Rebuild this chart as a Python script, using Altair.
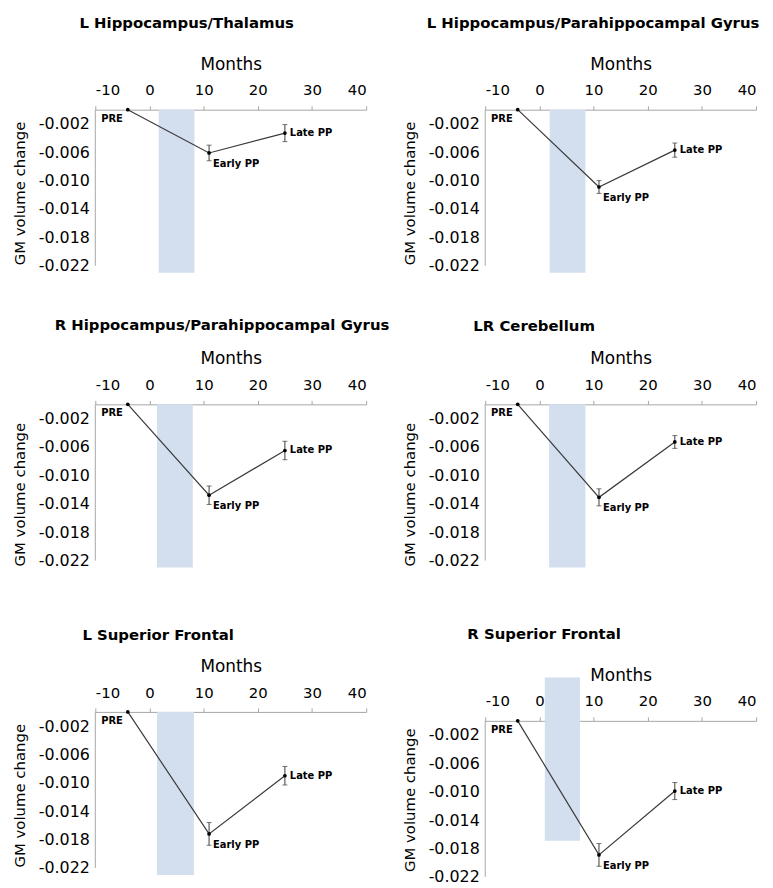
import altair as alt
import pandas as pd

regions = [
    "L Hippocampus/Thalamus",
    "L Hippocampus/Parahippocampal  Gyrus",
    "R Hippocampus/Parahippocampal  Gyrus",
    "LR Cerebellum",
    "L Superior  Frontal",
    "R Superior Frontal",
]
timepoints = ["PRE", "Early PP", "Late PP"]
months = [-4, 11, 25]
pre_values = [0.0, 0.0, 0.0, 0.0, 0.0, 0.0]
early_values = [-0.0061, -0.0109, -0.0128, -0.0131, -0.0172, -0.0189]
early_errors = [0.0011, 0.0009, 0.0013, 0.0012, 0.0016, 0.0016]
late_values = [-0.0033, -0.0057, -0.0065, -0.0053, -0.0090, -0.0099]
late_errors = [0.0012, 0.0010, 0.0013, 0.0009, 0.0013, 0.0012]
band_start = [1.7, 1.9, 1.4, 1.8, 1.4, 1.0]
band_end = [8.3, 8.5, 8.0, 8.5, 8.2, 7.5]
band_top = [0.0, 0.0, 0.0, 0.0, 0.0, 0.0061]
band_bottom = [-0.023, -0.023, -0.023, -0.023, -0.023, -0.0169]
x_ticks = [-10, 0, 10, 20, 30, 40]
y_ticks = [-0.002, -0.006, -0.010, -0.014, -0.018, -0.022]
y_axis_end = -0.022

# layout (per panel)
PX_PER_UNIT = 7.15  # pixels per 0.001
y_top = [0.0, 0.0, 0.0, 0.0, 0.0, 0.00126]
y_bottom = [-0.0235, -0.0235, -0.0253, -0.0253, -0.0235, -0.0235]
title_dx = [-16, -59, -41, -12, -13, -18]
title_offset = [24, 24, 17, 16, 14, 24]
x_axis_offset = [0, 0, 0, 0, 0, -9]

FONT = "DejaVu Sans"
LINE = "#3a3a3a"
AXIS_GREY = "#a6a6a6"
BAND = "#d3deee"


def panel(i):
    pts = pd.DataFrame({
        "month": months,
        "value": [pre_values[i], early_values[i], late_values[i]],
        "err": [0.0, early_errors[i], late_errors[i]],
        "label": timepoints,
    })
    pts["lo"] = pts["value"] - pts["err"]
    pts["hi"] = pts["value"] + pts["err"]
    errs = pts[pts["err"] > 0]
    caps = pd.DataFrame({
        "month": list(errs["month"]) * 2,
        "cap": list(errs["lo"]) + list(errs["hi"]),
    })
    band = pd.DataFrame({"x1": [band_start[i]], "x2": [band_end[i]],
                         "y1": [band_top[i]], "y2": [band_bottom[i]]})
    yline = pd.DataFrame({"y1": [0.0], "y2": [y_axis_end]})

    height = round((y_top[i] - y_bottom[i]) * 1000 * PX_PER_UNIT)
    xscale = alt.Scale(domain=[-10, 40], nice=False, zero=False)
    yscale = alt.Scale(domain=[y_bottom[i], y_top[i]], nice=False, zero=False)
    xaxis = alt.Axis(orient="top", values=x_ticks, title="Months", grid=False,
                     tickSize=4, labelPadding=8, titlePadding=10,
                     labelFontSize=15, titleFontSize=17,
                     offset=x_axis_offset[i],
                     labelExpr="datum.value < 0 ? '-' + abs(datum.value) : '' + datum.value")
    yaxis = alt.Axis(values=y_ticks, title="GM volume change", grid=False,
                     domain=False, ticks=False, labelPadding=6, titlePadding=11,
                     labelFontSize=16, titleFontSize=15,
                     labelExpr="'-' + format(abs(datum.value), '.3f')")

    def X(f):
        return alt.X(f, type="quantitative", scale=xscale, axis=xaxis)

    def Y(f):
        return alt.Y(f, type="quantitative", scale=yscale, axis=yaxis)

    band_l = alt.Chart(band).mark_rect(color=BAND).encode(
        x=X("x1"), x2="x2", y=Y("y1"), y2="y2")
    yline_l = alt.Chart(yline).mark_rule(color=AXIS_GREY, strokeWidth=1).encode(
        x=alt.value(0), y=Y("y1"), y2="y2")
    line_l = alt.Chart(pts).mark_line(color=LINE, strokeWidth=1.2).encode(
        x=X("month"), y=Y("value"))
    err_l = alt.Chart(errs).mark_rule(color=LINE, strokeWidth=1).encode(
        x=X("month"), y=Y("lo"), y2="hi")
    cap_l = alt.Chart(caps).mark_tick(color=LINE, orient="horizontal", size=5,
                                      thickness=1).encode(x=X("month"), y=Y("cap"))
    pt_l = alt.Chart(pts).mark_circle(color="black", size=14, opacity=1).encode(
        x=X("month"), y=Y("value"))
    common = dict(font=FONT, fontSize=10, fontWeight="bold", color="black")
    pre_t = alt.Chart(pts).transform_filter("datum.label == 'PRE'").mark_text(
        align="right", baseline="middle", dx=-5, dy=9, **common).encode(
        x=X("month"), y=Y("value"), text="label:N")
    early_t = alt.Chart(pts).transform_filter("datum.label == 'Early PP'").mark_text(
        align="left", baseline="middle", dx=4, dy=11, **common).encode(
        x=X("month"), y=Y("value"), text="label:N")
    late_t = alt.Chart(pts).transform_filter("datum.label == 'Late PP'").mark_text(
        align="left", baseline="middle", dx=5, dy=0, **common).encode(
        x=X("month"), y=Y("value"), text="label:N")

    return alt.layer(band_l, yline_l, line_l, err_l, cap_l, pt_l, pre_t, early_t, late_t).properties(
        width=273, height=height,
        title=alt.TitleParams(text=regions[i], anchor="start", frame="group",
                              dx=title_dx[i], offset=title_offset[i],
                              fontSize=15, fontWeight="bold", font=FONT, color="black"),
    )


panels = [panel(i) for i in range(6)]

chart = alt.concat(*panels, columns=2, spacing={"row": 129, "column": 120},
                   bounds="flush").properties(
    padding={"left": 4, "top": 5, "right": 0, "bottom": 0}
).configure_view(stroke=None).configure_axis(
    labelFont=FONT, titleFont=FONT,
    titleFontWeight="normal", labelColor="black", titleColor="black",
    domainColor=AXIS_GREY, tickColor=AXIS_GREY,
)

chart.save("out.html", embed_options={"renderer": "svg", "actions": False})
